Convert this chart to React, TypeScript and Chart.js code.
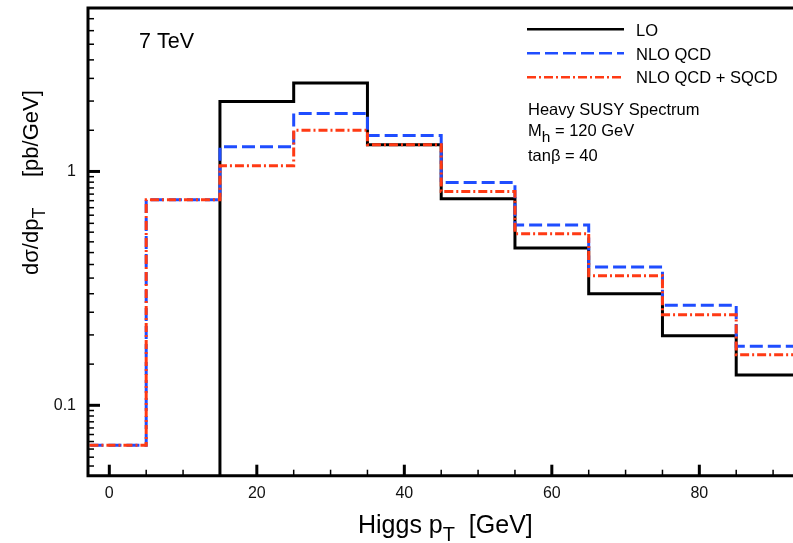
import React, { useEffect, useRef } from 'react';
import { Chart, registerables } from 'chart.js';

Chart.register(...registerables);

// ---- data ----
const binEdges = [-5, 5, 15, 25, 35, 45, 55, 65, 75, 85, 95];
// LO is zero below 15 GeV (below the axis range)
const loValues = [0.001, 0.001, 1.99, 2.39, 1.3, 0.764, 0.471, 0.3, 0.1985, 0.1347];
const nloValues = [0.0675, 0.757, 1.275, 1.77, 1.425, 0.897, 0.59, 0.39, 0.2676, 0.1787];
const sqcdValues = [0.0675, 0.757, 1.058, 1.5, 1.3, 0.821, 0.542, 0.358, 0.244, 0.1647];
const seriesNames = ['LO', 'NLO QCD', 'NLO QCD + SQCD'];
const xTickLabels = [0, 20, 40, 60, 80];
const yTickLabels = [0.1, 1];
const energyLabel = '7 TeV';
const infoLines = ['Heavy SUSY Spectrum', 'M|h| = 120 GeV', 'tanβ = 40'];

const FONT = "'Liberation Sans', Arial, Helvetica, sans-serif";
const BLUE = '#1f4dff';
const RED = '#ff3a14';

function histPoints(values: number[]) {
  const pts = values.map((v, i) => ({ x: binEdges[i], y: v }));
  pts.push({ x: binEdges[values.length], y: values[values.length - 1] });
  return pts;
}

type Part = { text: string; size: number; dy?: number };
function drawRich(ctx: CanvasRenderingContext2D, parts: Part[], x: number, y: number) {
  let cx = x;
  for (const p of parts) {
    ctx.font = `${p.size}px ${FONT}`;
    ctx.fillText(p.text, cx, y + (p.dy || 0));
    cx += ctx.measureText(p.text).width;
  }
  return cx - x;
}

const decorPlugin = {
  id: 'decor',
  afterDraw(chart: any) {
    const ctx: CanvasRenderingContext2D = chart.ctx;
    const { left, top, bottom } = chart.chartArea;
    const W = chart.width;
    const xs = chart.scales.x;
    const ys = chart.scales.y;
    ctx.save();
    ctx.strokeStyle = '#000';
    ctx.fillStyle = '#000';

    // x tick marks (inside)
    for (let v = Math.ceil(xs.min / 5) * 5; v <= xs.max; v += 5) {
      const px = xs.getPixelForValue(v);
      const major = v % 20 === 0;
      ctx.lineWidth = major ? 3 : 1.5;
      ctx.beginPath();
      ctx.moveTo(px, bottom);
      ctx.lineTo(px, bottom - (major ? 11 : 6));
      ctx.stroke();
    }
    // y tick marks (inside)
    const e0 = Math.floor(Math.log10(ys.min) + 1e-9);
    const e1 = Math.floor(Math.log10(ys.max) + 1e-9);
    for (let e = e0; e <= e1; e++) {
      const base = Math.pow(10, e);
      for (let k = 0; k < 18; k++) {
        const v = base * (1 + 0.5 * k);
        if (v <= ys.min * 1.0001 || v >= ys.max * 0.9999) continue;
        const py = ys.getPixelForValue(v);
        const major = k === 0;
        ctx.lineWidth = major ? 3 : 1.5;
        ctx.beginPath();
        ctx.moveTo(left, py);
        ctx.lineTo(left + (major ? 12 : 6), py);
        ctx.stroke();
      }
    }
    // frame
    ctx.lineWidth = 3;
    ctx.lineCap = 'square';
    ctx.beginPath();
    ctx.moveTo(W, top);
    ctx.lineTo(left, top);
    ctx.lineTo(left, bottom);
    ctx.lineTo(W, bottom);
    ctx.stroke();
    ctx.lineCap = 'butt';

    // energy label
    ctx.textBaseline = 'alphabetic';
    ctx.textAlign = 'left';
    ctx.font = `21.5px ${FONT}`;
    ctx.fillText(energyLabel, 139, 47.7);

    // legend
    const dsets = chart.data.datasets;
    for (let i = 0; i < dsets.length; i++) {
      const ds = dsets[i];
      const ly = 29.3 + i * 24;
      ctx.strokeStyle = ds.borderColor;
      ctx.lineWidth = 2.6;
      ctx.setLineDash(ds.borderDash || []);
      ctx.beginPath();
      ctx.moveTo(527, ly);
      ctx.lineTo(624, ly);
      ctx.stroke();
      ctx.setLineDash([]);
      ctx.fillStyle = '#000';
      ctx.font = `16.5px ${FONT}`;
      ctx.fillText(ds.label, 636, 35.7 + i * 23.8);
    }

    // info block
    const infoY = [114.5, 135.5, 160.5];
    infoLines.forEach((line, i) => {
      const m = line.split('|');
      if (m.length === 3) {
        drawRich(ctx, [
          { text: m[0], size: 16.5 },
          { text: m[1], size: 15.5, dy: 6 },
          { text: m[2], size: 16.5 },
        ], 528, infoY[i]);
      } else {
        ctx.font = `16.5px ${FONT}`;
        ctx.fillText(line, 528, infoY[i]);
      }
    });

    // x axis title
    drawRich(ctx, [
      { text: 'Higgs p', size: 25 },
      { text: 'T', size: 20, dy: 8 },
      { text: '  [GeV]', size: 25 },
    ], 358, 533);

    // y axis title
    ctx.save();
    ctx.translate(37.5, 275);
    ctx.rotate(-Math.PI / 2);
    drawRich(ctx, [
      { text: 'dσ/dp', size: 22 },
      { text: 'T', size: 18, dy: 7 },
      { text: '     [pb/GeV]', size: 22 },
    ], 0, 0);
    ctx.restore();

    ctx.restore();
  },
};

export default function App() {
  const ref = useRef<HTMLCanvasElement>(null);
  useEffect(() => {
    const canvas = ref.current!;
    const chart = new Chart(canvas, {
      type: 'line',
      data: {
        datasets: [
          {
            label: seriesNames[0],
            data: histPoints(loValues),
            borderColor: '#000',
            borderWidth: 3,
            stepped: 'before',
            pointRadius: 0,
            fill: false,
            order: 2,
          },
          {
            label: seriesNames[1],
            data: histPoints(nloValues),
            borderColor: BLUE,
            borderWidth: 3,
            borderDash: [13, 5],
            stepped: 'before',
            pointRadius: 0,
            fill: false,
            order: 1,
          },
          {
            label: seriesNames[2],
            data: histPoints(sqcdValues),
            borderColor: RED,
            borderWidth: 3,
            borderDash: [9, 3, 2, 3],
            stepped: 'before',
            pointRadius: 0,
            fill: false,
            order: 0,
          },
        ],
      } as any,
      options: {
        animation: false,
        responsive: false,
        devicePixelRatio: 1,
        layout: { padding: { left: 0, top: 8, right: 0, bottom: 0 } },
        plugins: { legend: { display: false }, tooltip: { enabled: false } },
        scales: {
          x: {
            type: 'linear',
            min: -2.89,
            max: 92.7,
            grid: { display: false, drawTicks: false },
            border: { display: false },
            ticks: {
              stepSize: 20,
              includeBounds: false,
              autoSkip: false,
              maxRotation: 0,
              padding: 8,
              color: '#111',
              font: { family: FONT, size: 16 },
              callback: (v: any) => (xTickLabels.includes(Number(v)) ? String(v) : ''),
            },
            afterFit: (s: any) => {
              s.height = 67.3;
              s.paddingLeft = 0;
              s.paddingRight = 0;
            },
          },
          y: {
            type: 'logarithmic',
            min: 0.05,
            max: 5,
            grid: { display: false, drawTicks: false },
            border: { display: false },
            ticks: {
              autoSkip: false,
              padding: 12,
              color: '#111',
              font: { family: FONT, size: 16 },
              callback: (v: any) => {
                const n = Number(v);
                return yTickLabels.some((t) => Math.abs(t - n) < 1e-9) ? String(n) : '';
              },
            },
            afterFit: (s: any) => {
              s.width = 88;
              s.paddingTop = 0;
              s.paddingBottom = 0;
            },
          },
        },
      } as any,
      plugins: [decorPlugin],
    });
    return () => chart.destroy();
  }, []);
  return (
    <canvas
      ref={ref}
      width={793}
      height={543}
      style={{ position: 'absolute', left: 0, top: 0, width: 793, height: 543, display: 'block' }}
    />
  );
}
